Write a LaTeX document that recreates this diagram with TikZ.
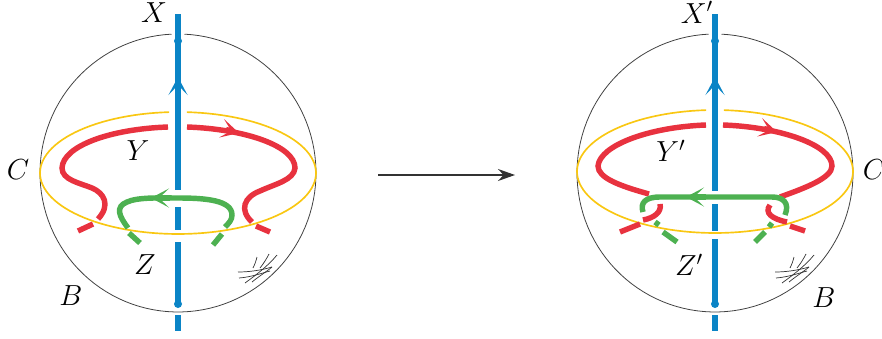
\documentclass[tikz,border=0pt]{standalone}
\usepackage{fix-cm}
\usepackage{amsmath,amssymb}
\usepackage{xcolor}
\usetikzlibrary{arrows.meta}
\definecolor{axisblue}{HTML}{0A84C6}
\definecolor{knotred}{HTML}{E8323F}
\definecolor{knotgreen}{HTML}{4DB151}
\definecolor{ringyellow}{HTML}{F9C712}
\begin{document}
\begin{tikzpicture}[
  x=0.02cm, y=-0.02cm,
  ballline/.style={line width=0.45pt, color=black!75},
  ringline/.style={line width=0.95pt, color=ringyellow},
  blueline/.style={line width=3pt, color=axisblue},
  redline/.style={line width=3.1pt, color=knotred},
  greenline/.style={line width=3.1pt, color=knotgreen},
  hatchline/.style={line width=0.4pt, color=black!80},
  barb/.style={-{Stealth[length=0.36cm, width=0.38cm, inset=0.2cm]}},
  lab/.style={font=\fontsize{16.5}{18}\selectfont, inner sep=0pt},
  arr/.style={-{Stealth[length=0.34cm, width=0.24cm]}, line width=0.7pt, color=black!80},
]
\useasboundingbox (0,0) rectangle (882,338);

% Left ball
\draw[ballline] plot[domain=-87.3:267.3, samples=120] ({178+138*cos(\x)},{173+139*sin(\x)});
\draw[ringline] plot[domain=-86.3:266.3, samples=120] ({178+138*cos(\x)},{173+61*sin(\x)});

% Left axis
\draw[blueline] (178,14) -- (178,190);
\draw[blueline] (178,207) -- (178,230);
\draw[blueline] (178,242) -- (178,305);
\draw[blueline] (178,315) -- (178,331);
\fill[axisblue] (178,41) circle[radius=4];
\fill[axisblue] (178,304) circle[radius=4];
\draw[blueline, barb] (178,100) -- (178,77);

% Left red arc
\draw[redline] (168,127) .. controls (110,129) and (63,146) .. (62,168)
  .. controls (62,180) and (80,183) .. (92,188) .. controls (104,193) and (111,205) .. (98,219);
\draw[redline] (78,231) -- (93,224);
\draw[redline] (187,127) .. controls (245,129) and (295,146) .. (295,168)
  .. controls (294,180) and (275,184) .. (260,191) .. controls (244,197) and (239,210) .. (252,222);
\draw[redline] (256,226) -- (270,232);
\draw[redline, barb] (226,129.5) -- (239,133);

% Left green arc
\draw[greenline] (128,228) .. controls (119,216) and (115,207) .. (127,202)
  .. controls (138,197) and (160,198) .. (178,198)
  .. controls (205,198) and (232,200) .. (232,215) .. controls (232,220) and (229,223) .. (225,227);
\draw[greenline] (129,233) -- (140,243);
\draw[greenline] (222,234) -- (213,245);
\draw[greenline, barb] (170,198) -- (151,198);

% Left hatch
\draw[hatchline] (238,272) .. controls (250,272) and (262,270) .. (272,267);
\draw[hatchline] (239,278) .. controls (252,277) and (262,273) .. (270,271);
\draw[hatchline] (245,283) .. controls (256,275) and (268,266) .. (277,255);
\draw[hatchline] (252,282) .. controls (258,277) and (266,272) .. (272,267);
\draw[hatchline] (253,268) .. controls (255,264) and (256,261) .. (257,257);
\draw[hatchline] (260,268) .. controls (264,263) and (267,258) .. (269,254);

% Left labels
\node[lab] (xlab) at (154,13) {$X$};
\node[lab] (ylab) at (138,151) {$Y$};
\node[lab] (clab) at (18,170) {$C$};
\node[lab] (zlab) at (145,265) {$Z$};
\node[lab] (blab) at (71,296) {$B$};

% Middle arrow
\coordinate (from) at (378,175);
\coordinate (to) at (515,175);
\draw[arr] (from) -- (to);

% Right ball
\draw[ballline] plot[domain=-87.3:267.3, samples=120] ({715+138*cos(\x)},{173+139*sin(\x)});
\draw[ringline] plot[domain=-86.3:266.3, samples=120] ({715+138*cos(\x)},{171.5+61.5*sin(\x)});

% Right axis
\draw[blueline] (715,14) -- (715,191);
\draw[blueline] (715,204) -- (715,231);
\draw[blueline] (715,239) -- (715,305);
\draw[blueline] (715,315) -- (715,331);
\fill[axisblue] (715,41) circle[radius=4];
\fill[axisblue] (715,304) circle[radius=4];
\draw[blueline, barb] (715,100) -- (715,77);

% Right red arc
\draw[redline] (706,125) .. controls (650,127) and (600,145) .. (598,166)
  .. controls (598,178) and (620,186) .. (649,194);
\draw[redline] (660,204) .. controls (662,212) and (654,218) .. (643,220);
\draw[redline] (640,224) -- (620,232);
\draw[redline] (723,125) .. controls (780,127) and (832,145) .. (832,166)
  .. controls (832,178) and (805,188) .. (780,197);
\draw[redline] (770,205) .. controls (764,213) and (772,219) .. (787,222);
\draw[redline] (790,226) -- (805,231);
\draw[redline, barb] (764,128.5) -- (777,132);

% Right green arc
\draw[greenline] (643,212) .. controls (640,203) and (645,197) .. (660,197)
  -- (772,197) .. controls (783,197) and (790,203) .. (785,215);
\draw[greenline] (655,222) -- (659,225);
\draw[greenline] (663,232) -- (677,242);
\draw[greenline] (772,223) -- (769,227);
\draw[greenline] (765,232) -- (755,242);
\draw[greenline, barb] (706,197) -- (686,197);

% Right hatch
\draw[hatchline] (775,272) .. controls (787,272) and (799,270) .. (809,267);
\draw[hatchline] (776,278) .. controls (789,277) and (799,273) .. (807,271);
\draw[hatchline] (782,283) .. controls (793,275) and (805,266) .. (814,255);
\draw[hatchline] (789,282) .. controls (795,277) and (803,272) .. (809,267);
\draw[hatchline] (790,268) .. controls (792,264) and (793,261) .. (794,257);
\draw[hatchline] (797,268) .. controls (801,263) and (804,258) .. (806,254);

% Right labels
\node[lab, anchor=north] (xplab) at (697,1) {$X'$};
\node[lab] (yplab) at (671,151) {$Y'$};
\node[lab] (cplab) at (874,170) {$C$};
\node[lab] (zplab) at (689,265) {$Z'$};
\node[lab] (bplab) at (824,298) {$B$};
\end{tikzpicture}
\end{document}
